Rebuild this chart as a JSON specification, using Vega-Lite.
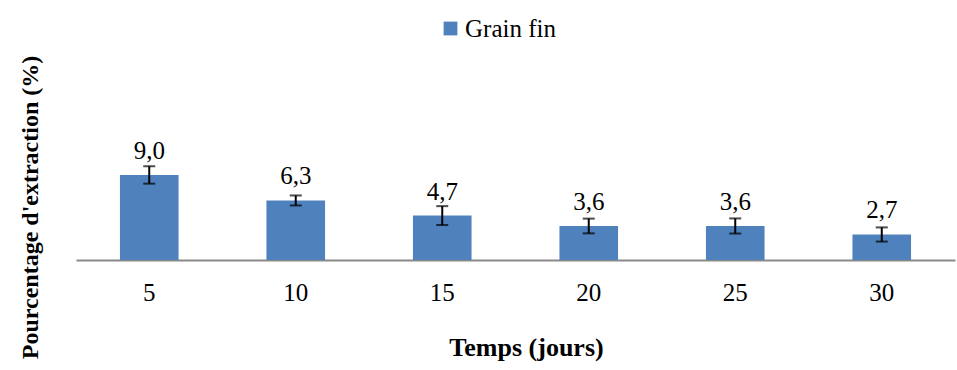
{
  "$schema": "https://vega.github.io/schema/vega-lite/v6.json",
  "width": 879,
  "height": 189,
  "autosize": "none",
  "padding": {"left": 76, "top": 71, "right": 2, "bottom": 110},
  "background": "white",
  "config": {
    "view": {"stroke": null},
    "font": "Liberation Serif, Times New Roman, serif"
  },
  "data": {
    "values": [
      {"temps": 5, "valeur": 9.0, "erreur": 0.92, "label": "9,0"},
      {"temps": 10, "valeur": 6.3, "erreur": 0.53, "label": "6,3"},
      {"temps": 15, "valeur": 4.7, "erreur": 1.0, "label": "4,7"},
      {"temps": 20, "valeur": 3.6, "erreur": 0.78, "label": "3,6"},
      {"temps": 25, "valeur": 3.6, "erreur": 0.8, "label": "3,6"},
      {"temps": 30, "valeur": 2.7, "erreur": 0.75, "label": "2,7"}
    ]
  },
  "encoding": {
    "x": {
      "field": "temps",
      "type": "ordinal",
      "scale": {"paddingInner": 0.6, "paddingOuter": 0.3},
      "axis": {
        "title": "Temps (jours)",
        "labelAngle": 0,
        "labelFont": "Liberation Serif, Times New Roman, serif",
        "labelFontSize": 25,
        "labelColor": "black",
        "labelPadding": 20,
        "ticks": false,
        "domainColor": "#898989",
        "domainWidth": 2,
        "titleFont": "Liberation Serif, Times New Roman, serif",
        "titleFontSize": 26,
        "titleFontWeight": "bold",
        "titleColor": "black",
        "titleX": 450,
        "titleY": 87,
        "titleBaseline": "middle"
      }
    }
  },
  "layer": [
    {
      "mark": {"type": "bar", "color": "#4F81BD"},
      "encoding": {
        "y": {
          "field": "valeur",
          "type": "quantitative",
          "scale": {"domain": [0, 20]},
          "axis": {
            "title": "Pourcentage d'extraction (%)",
            "domain": false,
            "ticks": false,
            "labels": false,
            "grid": false,
            "titleFont": "Liberation Serif, Times New Roman, serif",
            "titleFontSize": 24,
            "titleFontWeight": "bold",
            "titleColor": "black",
            "titleX": -46,
            "titleY": 136,
            "titleAngle": -90,
            "titleBaseline": "middle"
          }
        },
        "color": {
          "datum": "Grain fin",
          "scale": {"range": ["#4F81BD"]},
          "legend": {
            "title": null,
            "orient": "none",
            "legendX": 362,
            "legendY": -55,
            "symbolType": "square",
            "symbolSize": 190,
            "symbolStrokeWidth": 0,
            "labelFont": "Liberation Serif, Times New Roman, serif",
            "labelFontSize": 25,
            "labelColor": "black",
            "labelOffset": 2,
            "padding": 0
          }
        }
      }
    },
    {
      "mark": {
        "type": "errorbar",
        "color": "black",
        "thickness": 2,
        "ticks": {"size": 12, "thickness": 2, "color": "black"}
      },
      "encoding": {
        "y": {"field": "valeur", "type": "quantitative", "title": "Pourcentage d'extraction (%)"},
        "yError": {"field": "erreur"}
      }
    },
    {
      "mark": {
        "type": "text",
        "dy": -24,
        "baseline": "middle",
        "font": "Liberation Serif, Times New Roman, serif",
        "fontSize": 25,
        "color": "black"
      },
      "encoding": {
        "y": {"field": "valeur", "type": "quantitative", "title": "Pourcentage d'extraction (%)"},
        "text": {"field": "label"}
      }
    }
  ]
}
